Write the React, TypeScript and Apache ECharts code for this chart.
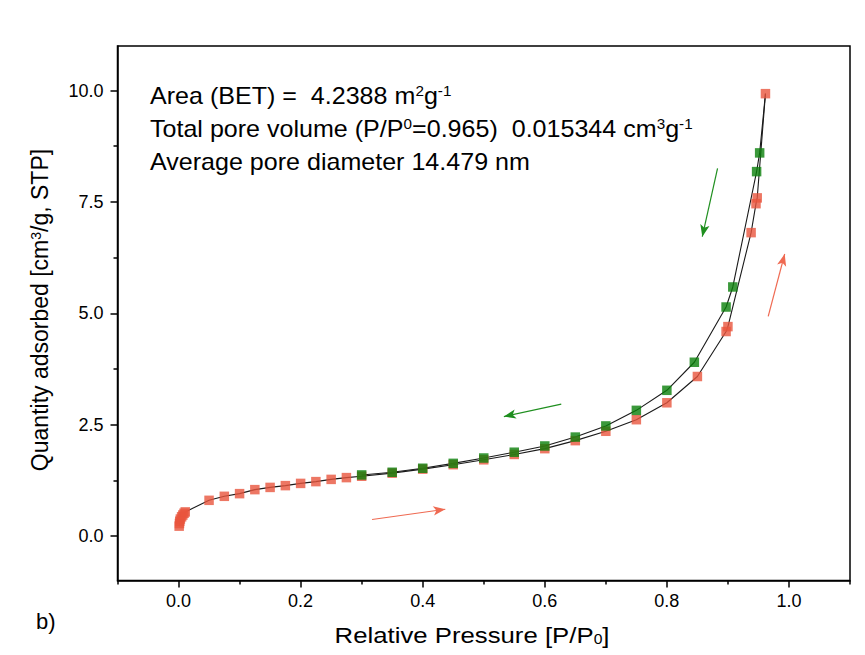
import React, { useEffect, useRef } from "react";
import * as echarts from "echarts";

// Adsorption branch (red): relative pressure P/P0 and quantity adsorbed
const adsP = [0.001, 0.0015, 0.002, 0.003, 0.005, 0.007, 0.009, 0.011, 0.05, 0.075, 0.1, 0.125, 0.15, 0.175, 0.2, 0.225, 0.25, 0.275, 0.3, 0.35, 0.4, 0.45, 0.5, 0.55, 0.6, 0.65, 0.7, 0.75, 0.8, 0.85, 0.897, 0.9, 0.938, 0.946, 0.948, 0.9615];
const adsQ = [0.22, 0.28, 0.33, 0.38, 0.43, 0.47, 0.51, 0.54, 0.8, 0.89, 0.95, 1.04, 1.09, 1.13, 1.18, 1.22, 1.27, 1.31, 1.34, 1.41, 1.5, 1.6, 1.71, 1.83, 1.96, 2.14, 2.35, 2.61, 2.99, 3.58, 4.59, 4.7, 6.81, 7.46, 7.59, 9.93];

// Desorption branch (green)
const desP = [0.952, 0.947, 0.908, 0.897, 0.845, 0.8, 0.75, 0.7, 0.65, 0.6, 0.55, 0.5, 0.45, 0.4, 0.35, 0.3];
const desQ = [8.6, 8.18, 5.59, 5.14, 3.9, 3.27, 2.82, 2.47, 2.22, 2.02, 1.88, 1.75, 1.63, 1.52, 1.43, 1.37];

// Axis ticks
const xMajorTicks = [0, 0.2, 0.4, 0.6, 0.8, 1.0];
const xMinorTicks = [-0.1, 0.1, 0.3, 0.5, 0.7, 0.9, 1.1];
const yMajorTicks = [0, 2.5, 5, 7.5, 10];
const yMinorTicks = [1.25, 3.75, 6.25, 8.75];

// Direction arrows [from P, from Q, to P, to Q]
const redArrows = [
  [0.317, 0.37, 0.437, 0.6],
  [0.966, 4.93, 0.993, 6.33],
];
const greenArrows = [
  [0.627, 2.96, 0.533, 2.68],
  [0.883, 8.25, 0.858, 6.72],
];

// Annotation texts
const annotationLines = [
  "Area (BET) =  4.2388 m{sup|2}g{sup|-1}",
  "Total pore volume (P/P{sup|0}=0.965)  0.015344 cm{sup|3}g{sup|-1}",
  "Average pore diameter 14.479 nm",
];

const RED = "#e9553d";
const GREEN = "#0a800a";
const FONT = "'Liberation Sans', Arial, Helvetica, sans-serif";

export default function App() {
  const ref = useRef<HTMLDivElement>(null);

  useEffect(() => {
    document.body.style.margin = "0";
    if (!ref.current) return;
    const chart = echarts.init(ref.current, null, { renderer: "svg" });

    const adsData = adsP.map((p, i) => [p, adsQ[i]]);
    const desData = desP.map((p, i) => [p, desQ[i]]);
    const topPoint = adsData[adsData.length - 1];
    const desLine = [topPoint, ...desData];

    const arrowData = (arr: number[][]) =>
      arr.map((a) => [{ coord: [a[0], a[1]] }, { coord: [a[2], a[3]] }]);

    const axisLineStyle = { color: "#000", width: 1.5 };
    const supRich = {
      sup: { fontSize: 14, verticalAlign: "top", fontFamily: FONT, fill: "#000" },
      sub: { fontSize: 14, verticalAlign: "bottom", fontFamily: FONT, fill: "#000" },
    };

    const annotationGraphics = annotationLines.map((t, i) => ({
      type: "text",
      x: 150,
      y: 96 + i * 33,
      scaleX: 1.09,
      style: {
        text: t,
        fontSize: 23,
        fontFamily: FONT,
        fill: "#000",
        align: "left",
        verticalAlign: "middle",
        rich: supRich,
      },
    }));

    const option: any = {
      animation: false,
      backgroundColor: "#fff",
      grid: {
        left: 117.5,
        right: 15,
        top: 46,
        bottom: 74.5,
        show: true,
        borderColor: "#000",
        borderWidth: 1.5,
        backgroundColor: "transparent",
      },
      xAxis: [
        {
          type: "value",
          min: -0.1,
          max: 1.1,
          position: "bottom",
          axisLine: { show: true, onZero: false, lineStyle: axisLineStyle },
          axisTick: { show: true, customValues: xMajorTicks, length: 7, lineStyle: axisLineStyle },
          axisLabel: {
            customValues: xMajorTicks,
            formatter: (v: number) => v.toFixed(1),
            margin: 11,
            fontSize: 18,
            color: "#000",
            fontFamily: FONT,
          },
          splitLine: { show: false },
        },
        {
          type: "value",
          min: -0.1,
          max: 1.1,
          position: "bottom",
          axisLine: { show: false, onZero: false },
          axisTick: { show: true, customValues: xMinorTicks, length: 4, lineStyle: axisLineStyle },
          axisLabel: { show: false },
          splitLine: { show: false },
        },
      ],
      yAxis: [
        {
          type: "value",
          min: -1,
          max: 11,
          position: "left",
          axisLine: { show: true, onZero: false, lineStyle: axisLineStyle },
          axisTick: { show: true, customValues: yMajorTicks, length: 7, lineStyle: axisLineStyle },
          axisLabel: {
            customValues: yMajorTicks,
            formatter: (v: number) => v.toFixed(1),
            margin: 14,
            fontSize: 18,
            color: "#000",
            fontFamily: FONT,
          },
          splitLine: { show: false },
        },
        {
          type: "value",
          min: -1,
          max: 11,
          position: "left",
          axisLine: { show: false, onZero: false },
          axisTick: { show: true, customValues: yMinorTicks, length: 4, lineStyle: axisLineStyle },
          axisLabel: { show: false },
          splitLine: { show: false },
        },
      ],
      series: [
        {
          name: "Adsorption line",
          type: "line",
          data: adsData,
          showSymbol: false,
          symbol: "none",
          lineStyle: { color: "#1a1a1a", width: 1.1 },
          z: 1,
          silent: true,
        },
        {
          name: "Desorption line",
          type: "line",
          data: desLine,
          showSymbol: false,
          symbol: "none",
          lineStyle: { color: "#1a1a1a", width: 1.1 },
          z: 1,
          silent: true,
        },
        {
          name: "Adsorption",
          type: "scatter",
          data: adsData,
          symbol: "rect",
          symbolSize: 9.5,
          itemStyle: { color: RED },
          z: 3,
          markLine: {
            silent: true,
            animation: false,
            symbol: ["none", "arrow"],
            symbolSize: [7, 12],
            label: { show: false },
            lineStyle: { color: "#ef6a52", width: 1.2, type: "solid" },
            data: arrowData(redArrows),
          },
        },
        {
          name: "Desorption",
          type: "scatter",
          data: desData,
          symbol: "rect",
          symbolSize: 9.5,
          itemStyle: { color: GREEN },
          z: 4,
          markLine: {
            silent: true,
            animation: false,
            symbol: ["none", "arrow"],
            symbolSize: [7, 12],
            label: { show: false },
            lineStyle: { color: "#1f8f1f", width: 1.2, type: "solid" },
            data: arrowData(greenArrows),
          },
        },
      ],
      graphic: [
        ...annotationGraphics,
        {
          type: "text",
          x: 472,
          y: 635,
          scaleX: 1.12,
          style: {
            text: "Relative Pressure [P/P{sub|0}]",
            fontSize: 23,
            fontFamily: FONT,
            fill: "#000",
            align: "center",
            verticalAlign: "middle",
            rich: supRich,
          },
        },
        {
          type: "text",
          x: 40,
          y: 310,
          rotation: Math.PI / 2,
          style: {
            text: "Quantity adsorbed [cm{sup|3}/g, STP]",
            fontSize: 23,
            fontFamily: FONT,
            fill: "#000",
            align: "center",
            verticalAlign: "middle",
            rich: supRich,
          },
        },
        {
          type: "text",
          x: 36,
          y: 621,
          style: {
            text: "b)",
            fontSize: 22,
            fontFamily: FONT,
            fill: "#000",
            verticalAlign: "middle",
          },
        },
      ],
    };

    chart.setOption(option);
    return () => chart.dispose();
  }, []);

  return <div ref={ref} style={{ width: 865, height: 655 }} />;
}
